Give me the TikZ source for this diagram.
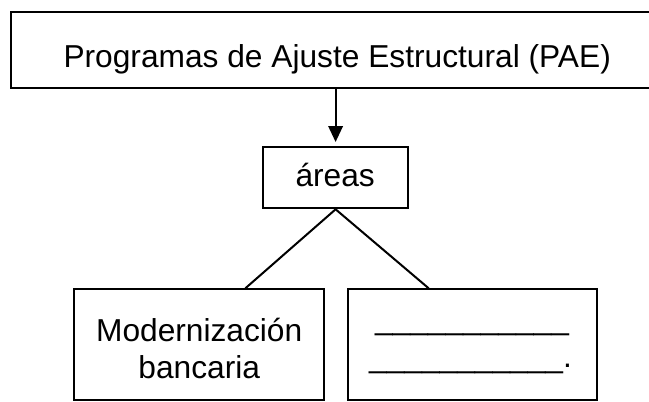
\documentclass[tikz,border=0pt]{standalone}
\usepackage{fontspec}
\setmainfont{Liberation Sans}
\usetikzlibrary{arrows.meta,calc}
\tikzset{
  box/.style={draw=black, line width=2pt, rectangle, inner sep=0pt},
  txt/.style={anchor=base, inner sep=0pt, font=\fontsize{31.7}{29}\selectfont},
  conn/.style={draw=black, line width=2pt},
  arr/.style={conn, -{Triangle[length=16pt,width=14.5pt]}, shorten >=4.3pt},
}
\begin{document}
\begin{tikzpicture}[x=1pt,y=-1pt]
\useasboundingbox (0,0) rectangle (649,402);
% boxes
\node[box, minimum width=650.7pt, minimum height=76pt] (top) at (336.6,50.3) {};
\node[box, minimum width=144.3pt, minimum height=61pt] (areas) at (335.6,177.8) {};
\node[box, minimum width=250pt, minimum height=110.7pt] (bl) at (199,344.65) {};
\node[box, minimum width=248.4pt, minimum height=110.7pt] (br) at (472.5,344.65) {};
% texts
\node[txt] (ttop) at (337.2,67.3) {Programas de Ajuste Estructural (PAE)};
\node[txt] (tareas) at (335.2,186.7) {áreas};
\node[txt] (tbl1) at (199.2,341.7) {Modernización};
\node[txt] (tbl2) at (199.2,378.3) {bancaria};
\node[txt] (tbr1) at (472.0,329.6) {\_\_\_\_\_\_\_\_\_\_\_};
\node[txt] (tbr2) at (470.5,367.0) {\_\_\_\_\_\_\_\_\_\_\_.};
% connectors
\draw[arr] (areas.north |- top.south) -- (areas.north);
\draw[conn] ($(bl.north west)!0.684!(bl.north east)$) -- (areas.south) -- ($(br.north west)!0.325!(br.north east)$);
\end{tikzpicture}
\end{document}
